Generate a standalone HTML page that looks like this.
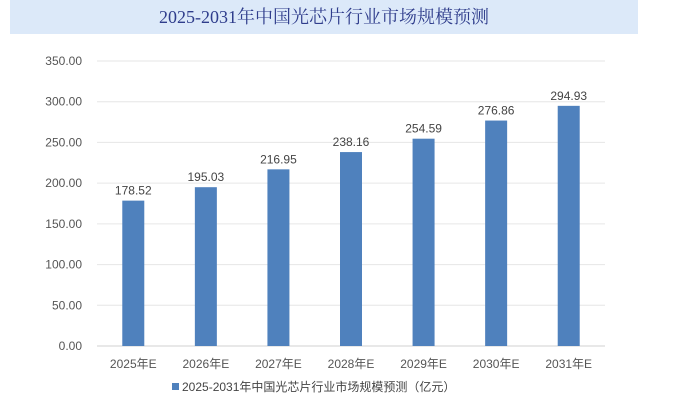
<!DOCTYPE html>
<html><head><meta charset="utf-8"><style>
body{margin:0;background:#fff;}
svg{display:block;font-family:"Liberation Sans","Noto Sans CJK SC",sans-serif;}
</style></head><body>
<svg width="700" height="403" viewBox="0 0 700 403">
<rect x="10" y="0" width="628" height="34" fill="#dce9f9"/>
<text x="324" y="23" text-anchor="middle" font-size="18" fill="#2f3d8c" font-family="'Liberation Serif','Noto Serif CJK SC',serif">2025-2031年中国光芯片行业市场规模预测</text>
<g id="grid"></g><g id="bars"></g><g id="labels"></g>
<rect x="172" y="383" width="7" height="7" fill="#4f81bd"/>
<text x="182" y="391" font-size="12" fill="#444">2025-2031年中国光芯片行业市场规模预测（亿元）</text>
</svg>
<script>
const categories=["2025年E","2026年E","2027年E","2028年E","2029年E","2030年E","2031年E"];
const values=[178.52,195.03,216.95,238.16,254.59,276.86,294.93];
const ticks=[0,50,100,150,200,250,300,350];
const NS="http://www.w3.org/2000/svg";
const x0=97,x1=605,yB=346,yT=61,maxV=350;
const y=v=>yB-(v/maxV)*(yB-yT);
const slot=(x1-x0)/categories.length;
const xc=i=>x0+slot*(i+0.5);
function mk(t,a,p){const e=document.createElementNS(NS,t);for(const k in a)e.setAttribute(k,a[k]);p.appendChild(e);return e;}
const g=document.getElementById('grid'),b=document.getElementById('bars'),l=document.getElementById('labels');
ticks.forEach(t=>{
 const ln=mk('line',{x1:x0,x2:x1,y1:y(t),y2:y(t),stroke:t===0?'#d0d0d0':'#e6e6e6','stroke-width':1},g);
 
 
 const tx=mk('text',{x:82,y:y(t)+4,'text-anchor':'end','font-size':12,fill:'#555'},g);
 tx.textContent=t.toFixed(2);
 
 
});
values.forEach((v,i)=>{
 const r=mk('rect',{x:xc(i)-11,y:y(v),width:22,height:yB-y(v),fill:'#4f81bd'},b);
 
 
 const t=mk('text',{x:xc(i),y:y(v)-6,'text-anchor':'middle','font-size':12,fill:'#444'},l);
 t.textContent=v.toFixed(2);
 
 
 const c=mk('text',{x:xc(i),y:368,'text-anchor':'middle','font-size':12,fill:'#555'},l);
 c.textContent=categories[i];
 
 
});
</script>
</body></html>
